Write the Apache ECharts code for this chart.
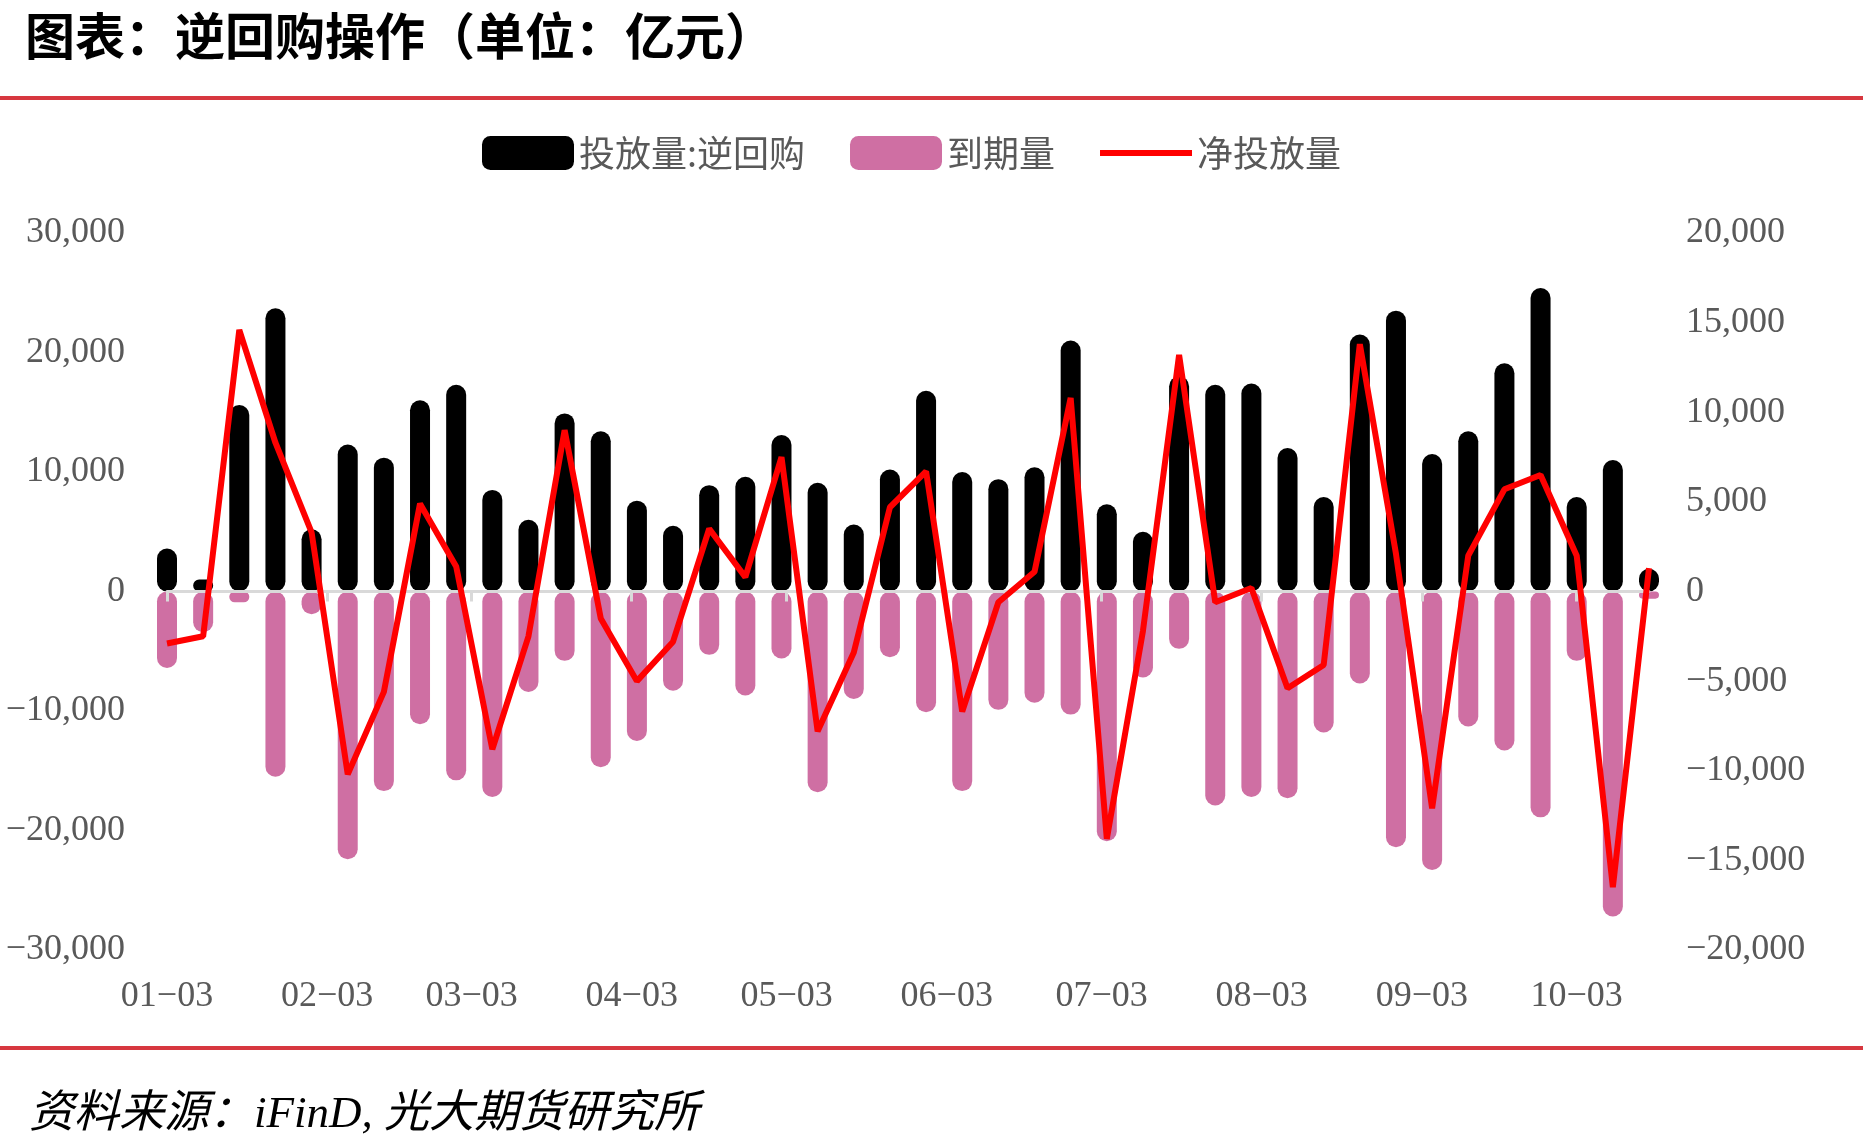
<!DOCTYPE html>
<html><head><meta charset="utf-8">
<script src="https://cdn.jsdelivr.net/npm/echarts@6/dist/echarts.min.js"></script>
<style>html,body{margin:0;padding:0;background:#fff}#c{width:1863px;height:1146px}</style>
</head><body><div id="c"></div>
<script>
const dates = ['2025-01-03','2025-01-10','2025-01-17','2025-01-24','2025-01-31','2025-02-07','2025-02-14','2025-02-21','2025-02-28','2025-03-07','2025-03-14','2025-03-21','2025-03-28','2025-04-04','2025-04-11','2025-04-18','2025-04-25','2025-05-02','2025-05-09','2025-05-16','2025-05-23','2025-05-30','2025-06-06','2025-06-13','2025-06-20','2025-06-27','2025-07-04','2025-07-11','2025-07-18','2025-07-25','2025-08-01','2025-08-08','2025-08-15','2025-08-22','2025-08-29','2025-09-05','2025-09-12','2025-09-19','2025-09-26','2025-10-03','2025-10-10','2025-10-17'];
const injection = [3600,1000,15600,23700,5200,12300,11200,16000,17300,8500,6000,14900,13400,7600,5500,8900,9600,13100,9100,5600,10200,16800,10000,9400,10400,21000,7300,5000,18000,17300,17400,12000,7900,21500,23500,11500,13400,19100,25400,7900,11000,1900];
const maturity = [-6400,-3400,-900,-15500,-1900,-22400,-16700,-11100,-15800,-17200,-8400,-5800,-14700,-12500,-8300,-5300,-8700,-5600,-16800,-9000,-5500,-10100,-16700,-9900,-9300,-10300,-20900,-7200,-4800,-17900,-17200,-17300,-11800,-7700,-21400,-23300,-11300,-13300,-18900,-5800,-27200,-600];
const netInjection = [-2900,-2500,14600,8300,3300,-10200,-5600,4900,1400,-8800,-2500,9000,-1500,-5000,-2800,3500,800,7500,-7800,-3400,4700,6700,-6700,-600,1100,10800,-13800,-2200,13200,-600,200,-5400,-4100,13800,2100,-12100,2000,5700,6500,2000,-16500,1300];
const monthTicks = ['2025-01-03','2025-02-03','2025-03-03','2025-04-03','2025-05-03','2025-06-03','2025-07-03','2025-08-03','2025-09-03','2025-10-03'];
const axisStart = '2025-01-03';
const axisEnd = '2025-10-17';

const T = s => +echarts.time.parse(s);
const pad = n => (n < 10 ? '0' : '') + n;
const numFmt = v => { const s = Math.abs(v).toLocaleString('en-US'); return v < 0 ? '\u2212' + s : s; };
const dateFmt = v => { const d = new Date(v); return pad(d.getMonth() + 1) + '\u2212' + pad(d.getDate()); };
const tickVals = monthTicks.map(T);
const gray = '#595959';
const numFont = 'Liberation Serif';

const chart = echarts.init(document.getElementById('c'));
chart.setOption({
  animation: false,
  backgroundColor: '#fff',
  title: {
    text: '图表：逆回购操作（单位：亿元）',
    left: 20, top: 6,
    textStyle: { fontSize: 50, fontWeight: 'bold', color: '#000', fontFamily: 'Noto Sans CJK SC' }
  },
  legend: {
    top: 130, left: 477,
    itemWidth: 92, itemHeight: 34, itemGap: 45,
    textStyle: { fontSize: 36, color: gray, fontFamily: 'Noto Sans CJK SC' },
    data: [
      { name: '投放量:逆回购' },
      { name: '到期量' },
      { name: '净投放量', icon: 'path://M0,0 H90 V6 H0 Z', itemStyle: { color: '#FF0000' } }
    ]
  },
  grid: { left: 167, right: 214, top: 233, bottom: 196 },
  xAxis: [
    {
      type: 'value', min: T(axisStart), max: T(axisEnd), position: 'bottom',
      axisLine: { show: false, onZero: false },
      axisTick: { show: false },
      splitLine: { show: false },
      axisLabel: { customValues: tickVals, formatter: dateFmt, fontSize: 36, color: gray, fontFamily: numFont, margin: 29 }
    },
    {
      type: 'value', min: T(axisStart), max: T(axisEnd), position: 'top', z: 5,
      axisLine: { show: true, onZero: true, lineStyle: { color: '#d9d9d9', width: 3 } },
      axisTick: { show: true, inside: true, length: 10, customValues: tickVals, lineStyle: { color: '#d9d9d9', width: 3 } },
      axisLabel: { show: false },
      splitLine: { show: false }
    }
  ],
  yAxis: [
    {
      type: 'value', min: -30000, max: 30000, interval: 10000, position: 'left',
      axisLine: { show: false }, axisTick: { show: false }, splitLine: { show: false },
      axisLabel: { formatter: numFmt, fontSize: 36, color: gray, fontFamily: numFont, margin: 42 }
    },
    {
      type: 'value', min: -20000, max: 20000, interval: 5000, position: 'right',
      axisLine: { show: false }, axisTick: { show: false }, splitLine: { show: false },
      axisLabel: { formatter: numFmt, fontSize: 36, color: gray, fontFamily: numFont, margin: 37 }
    }
  ],
  series: [
    {
      name: '投放量:逆回购', type: 'bar', xAxisIndex: 0, yAxisIndex: 0, barWidth: 20, barGap: '-100%',
      itemStyle: { color: '#000000', borderRadius: 10 },
      data: dates.map((d, i) => [T(d), injection[i]])
    },
    {
      name: '到期量', type: 'bar', xAxisIndex: 0, yAxisIndex: 0, barWidth: 20, barGap: '-100%',
      itemStyle: { color: '#CF6FA3', borderRadius: 10 },
      data: dates.map((d, i) => [T(d), maturity[i]])
    },
    {
      name: '净投放量', type: 'line', xAxisIndex: 0, yAxisIndex: 1, z: 10,
      symbol: 'none', showSymbol: false, lineStyle: { color: '#FF0000', width: 6 }, itemStyle: { color: '#FF0000' },
      data: dates.map((d, i) => [T(d), netInjection[i]])
    }
  ],
  graphic: [
    { type: 'rect', left: 0, top: 96, shape: { width: 1863, height: 4 }, style: { fill: '#D7373F' } },
    { type: 'rect', left: 0, top: 1046, shape: { width: 1863, height: 4 }, style: { fill: '#D7373F' } },
    { type: 'text', left: 29, top: 1093, style: { text: '资料来源：iFinD, 光大期货研究所', font: 'italic 45px "Liberation Serif", "Noto Sans CJK SC"', fill: '#000' } }
  ]
});
</script></body></html>
